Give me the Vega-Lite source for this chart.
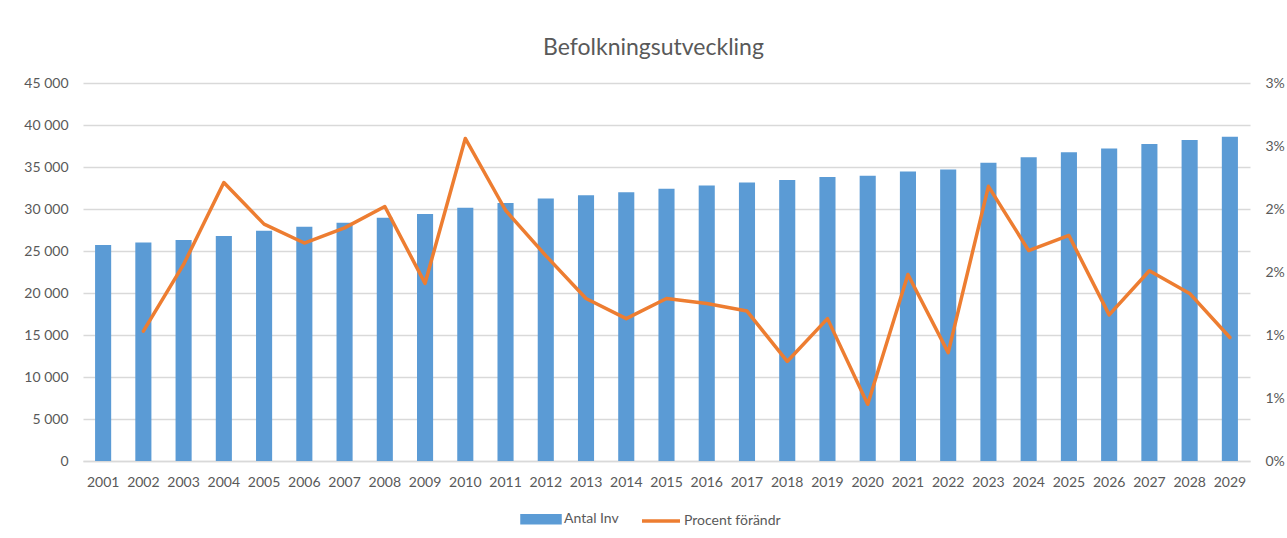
{
  "$schema": "https://vega.github.io/schema/vega-lite/v6.json",
  "width": 1167,
  "height": 378,
  "autosize": "none",
  "padding": {"left": 83, "top": 83, "right": 37, "bottom": 77},
  "background": "white",
  "title": {
    "text": "Befolkningsutveckling",
    "fontSize": 23,
    "font": "Lato",
    "fontWeight": "normal",
    "color": "#595959",
    "anchor": "middle",
    "dx": -13,
    "baseline": "alphabetic",
    "offset": -2
  },
  "data": {
    "values": [
      {"year": "2001", "antal": 25700, "procent": null},
      {"year": "2002", "antal": 26000, "procent": 0.0103},
      {"year": "2003", "antal": 26300, "procent": 0.0156},
      {"year": "2004", "antal": 26800, "procent": 0.0221},
      {"year": "2005", "antal": 27400, "procent": 0.0188},
      {"year": "2006", "antal": 27900, "procent": 0.0173},
      {"year": "2007", "antal": 28350, "procent": 0.0185},
      {"year": "2008", "antal": 28950, "procent": 0.0202},
      {"year": "2009", "antal": 29400, "procent": 0.0141},
      {"year": "2010", "antal": 30150, "procent": 0.0256},
      {"year": "2011", "antal": 30700, "procent": 0.0199},
      {"year": "2012", "antal": 31250, "procent": 0.0163},
      {"year": "2013", "antal": 31650, "procent": 0.0129},
      {"year": "2014", "antal": 32000, "procent": 0.0113},
      {"year": "2015", "antal": 32400, "procent": 0.0129},
      {"year": "2016", "antal": 32800, "procent": 0.0125},
      {"year": "2017", "antal": 33150, "procent": 0.0119},
      {"year": "2018", "antal": 33450, "procent": 0.0079},
      {"year": "2019", "antal": 33800, "procent": 0.0113},
      {"year": "2020", "antal": 33950, "procent": 0.0045},
      {"year": "2021", "antal": 34450, "procent": 0.0148},
      {"year": "2022", "antal": 34700, "procent": 0.0086},
      {"year": "2023", "antal": 35500, "procent": 0.0218},
      {"year": "2024", "antal": 36150, "procent": 0.0167},
      {"year": "2025", "antal": 36750, "procent": 0.0179},
      {"year": "2026", "antal": 37200, "procent": 0.0116},
      {"year": "2027", "antal": 37750, "procent": 0.0151},
      {"year": "2028", "antal": 38200, "procent": 0.0133},
      {"year": "2029", "antal": 38600, "procent": 0.0098}
    ]
  },
  "encoding": {
    "x": {
      "field": "year",
      "type": "nominal",
      "scale": {"paddingInner": 0.6, "paddingOuter": 0.3},
      "axis": {
        "title": null,
        "labelAngle": 0,
        "labelPadding": 14,
        "ticks": false,
        "domain": true,
        "domainColor": "#d9d9d9",
        "domainWidth": 1.5,
        "grid": false
      }
    }
  },
  "layer": [
    {
      "mark": {"type": "bar", "color": "#5B9BD5"},
      "encoding": {
        "y": {
          "field": "antal",
          "type": "quantitative",
          "scale": {"domain": [0, 45000], "nice": false},
          "axis": {
            "title": null,
            "values": [0, 5000, 10000, 15000, 20000, 25000, 30000, 35000, 40000, 45000],
            "format": ",d",
            "grid": true,
            "gridColor": "#d9d9d9",
            "gridWidth": 1.3,
            "domain": false,
            "ticks": false,
            "labelPadding": 15
          }
        },
        "color": {
          "datum": "Antal Inv",
          "type": "nominal",
          "scale": {"domain": ["Antal Inv", "Procent förändr"], "range": ["#5B9BD5", "#ED7D31"]},
          "legend": {
            "title": null,
            "orient": "none",
            "direction": "horizontal",
            "legendX": 437,
            "legendY": 415,
            "padding": 0,
            "columnPadding": 16,
            "labelOffset": 2,
            "labelFontSize": 14,
            "labelFont": "Lato",
            "labelColor": "#595959",
            "symbolSize": 1444,
            "encode": {
              "symbols": {
                "update": {
                  "shape": {"signal": "datum.value === 'Antal Inv' ? 'M-1,-0.18H1V0.18H-1Z' : 'M-1,0H1'"},
                  "fill": {"signal": "datum.value === 'Antal Inv' ? '#5B9BD5' : 'transparent'"},
                  "stroke": {"signal": "datum.value === 'Antal Inv' ? 'transparent' : '#ED7D31'"},
                  "strokeWidth": {"value": 3.5},
                  "size": {"value": 1444},
                  "opacity": {"value": 1}
                }
              }
            }
          }
        }
      }
    },
    {
      "mark": {"type": "line", "strokeWidth": 3.5, "strokeJoin": "round", "strokeCap": "round"},
      "encoding": {
        "y": {
          "field": "procent",
          "type": "quantitative",
          "scale": {"domain": [0, 0.03], "nice": false},
          "axis": {
            "orient": "right",
            "title": null,
            "values": [0, 0.005, 0.01, 0.015, 0.02, 0.025, 0.03],
            "format": ".0%",
            "grid": false,
            "domain": false,
            "ticks": false,
            "labelPadding": 15
          }
        },
        "color": {"datum": "Procent förändr", "type": "nominal"}
      }
    }
  ],
  "resolve": {"scale": {"y": "independent"}},
  "config": {
    "locale": {
      "number": {"decimal": ",", "thousands": "\u00a0", "grouping": [3], "currency": ["", " kr"]}
    },
    "view": {"stroke": null},
    "axis": {
      "labelFont": "Lato",
      "labelFontSize": 14,
      "labelColor": "#595959"
    }
  }
}
